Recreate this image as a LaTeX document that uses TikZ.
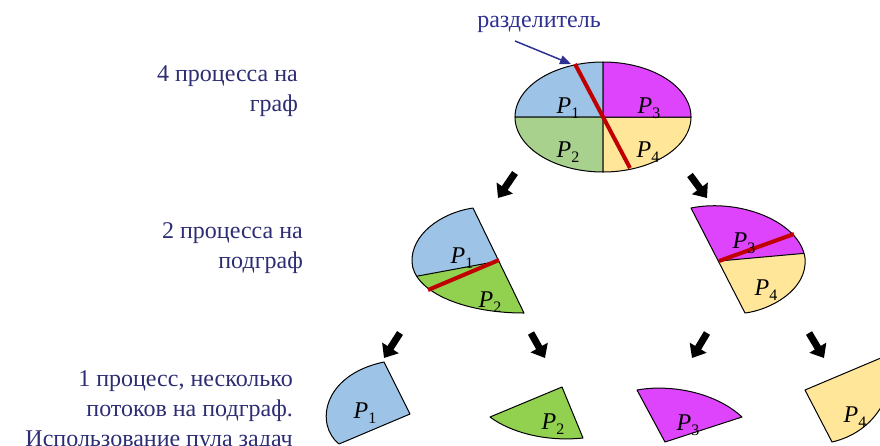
\documentclass[tikz,border=0pt]{standalone}
\usepackage{fontspec}
\setmainfont{Liberation Serif}
\usepackage{xcolor}
\definecolor{navy}{RGB}{45,45,115}
\definecolor{sepblue}{RGB}{46,49,146}
\definecolor{pblue}{RGB}{157,195,230}
\definecolor{pgreen}{RGB}{169,209,142}
\definecolor{pgreenb}{RGB}{146,208,80}
\definecolor{pmag}{RGB}{222,68,252}
\definecolor{pyellow}{RGB}{255,230,153}
\definecolor{cutred}{RGB}{192,0,0}
\usepackage{tikz}
\usetikzlibrary{arrows.meta, calc, positioning}
\newcommand{\pp}[1]{\textit{P}\raisebox{-5pt}{\fontsize{16}{16}\selectfont #1}}

\begin{document}
\begin{tikzpicture}[x=1pt, y=-1pt, >=stealth,
    piece/.style={draw=black, line width=1pt, line join=round},
    cut/.style={cutred, line width=4pt},
    blockarrow/.style={line width=7pt, -{Triangle[length=12pt, width=19pt]}},
    plabel/.style={font=\fontsize{24}{24}\selectfont, anchor=base, inner sep=0pt},
    side/.style={navy, font=\fontsize{24}{30}\selectfont, align=right, anchor=north east, inner sep=0pt}]
    \clip (0,0) rectangle (880,445);

    % Whole graph, 4 processes
    \filldraw[piece, fill=pblue] (603,117) -- plot[domain=90:180, samples=40] ({603+88*cos(\x)},{117-55*sin(\x)}) -- cycle;
    \filldraw[piece, fill=pgreen] (603,117) -- plot[domain=180:270, samples=40] ({603+88*cos(\x)},{117-55*sin(\x)}) -- cycle;
    \filldraw[piece, fill=pyellow] (603,117) -- plot[domain=270:360, samples=40] ({603+88*cos(\x)},{117-55*sin(\x)}) -- cycle;
    \filldraw[piece, fill=pmag] (603,117) -- plot[domain=0:90, samples=40] ({603+88*cos(\x)},{117-55*sin(\x)}) -- cycle;
    \draw[cut] (575,64) -- (630,168);
    \node[plabel] (g1) at (568,113) {\pp{1}};
    \node[plabel] (g3) at (649,113) {\pp{3}};
    \node[plabel] (g2) at (568,157) {\pp{2}};
    \node[plabel] (g4) at (648,157) {\pp{4}};

    % Separator label
    \node[sepblue, font=\fontsize{24}{24}\selectfont, anchor=base, inner sep=0pt] (seplabel) at (539,27) {разделитель};
    \coordinate (septail) at (515,41);
    \coordinate (septip) at (571,64);
    \draw[sepblue, line width=1.5pt, -{Triangle[length=11pt, width=9pt]}] (septail) -- (septip);

    % Left half, 2 processes
    \begin{scope}
        \clip (473,208) .. controls (440,213) and (411,235) .. (412,262) .. controls (413,290) and (460,313) .. (524,313) -- cycle;
        \fill[pgreenb] (400,200) rectangle (540,320);
        \fill[pblue] (499,261) -- (380,283) -- (380,180) -- (520,180) -- cycle;
        \draw[piece] (380,283) -- (499,261);
    \end{scope}
    \draw[piece] (473,208) .. controls (440,213) and (411,235) .. (412,262) .. controls (413,290) and (460,313) .. (524,313) -- cycle;
    \draw[cut] (428,290) -- (499,260);
    \node[plabel] (h1) at (462,263) {\pp{1}};
    \node[plabel] (h2) at (490,307) {\pp{2}};

    % Right half, 2 processes
    \begin{scope}
        \clip (691,208) .. controls (740,198) and (800,222) .. (805,258) .. controls (808,290) and (770,310) .. (745,313) -- cycle;
        \fill[pyellow] (680,190) rectangle (830,320);
        \fill[pmag] (719,261) -- (830,251) -- (830,190) -- (680,190) -- cycle;
        \draw[piece] (719,261) -- (830,251);
    \end{scope}
    \draw[piece] (691,208) .. controls (740,198) and (800,222) .. (805,258) .. controls (808,290) and (770,310) .. (745,313) -- cycle;
    \draw[cut] (719,261) -- (794,234);
    \node[plabel] (h3) at (744,248) {\pp{3}};
    \node[plabel] (h4) at (766,295) {\pp{4}};

    % One piece per process
    \filldraw[piece, fill=pblue] (384,362) -- (410,414) -- (339,444) .. controls (315,425) and (322,375) .. (384,362) -- cycle;
    \filldraw[piece, fill=pgreenb] (562,387) -- (583,438) .. controls (545,442) and (510,432) .. (490,417) -- cycle;
    \filldraw[piece, fill=pmag] (637,390) .. controls (670,384) and (715,392) .. (742,417) -- (665,442) -- cycle;
    \filldraw[piece, fill=pyellow] (805,390) -- (895,352) .. controls (895,395) and (875,432) .. (832,442) -- cycle;
    \node[plabel] (k1) at (365,418) {\pp{1}};
    \node[plabel] (k2) at (553,429) {\pp{2}};
    \node[plabel] (k3) at (688,430) {\pp{3}};
    \node[plabel] (k4) at (855,422) {\pp{4}};

    % Split arrows
    \foreach \xa/\ya/\xb/\yb in {515/173/498/198, 690/175/707/198,
                                 400/333/384/358, 531/333/545/358,
                                 707/333/692/358, 809/333/824/358} {
        \draw[blockarrow] (\xa,\ya) -- (\xb,\yb);
    }

    % Level captions
    \node[side] (cap1) at (298,65) {4 процесса на\\граф};
    \node[side] (cap2) at (303,222) {2 процесса на\\подграф};
    \node[side] (cap3) at (293,370) {1 процесс, несколько\\потоков на подграф.\\Использование пула задач};
\end{tikzpicture}
\end{document}
